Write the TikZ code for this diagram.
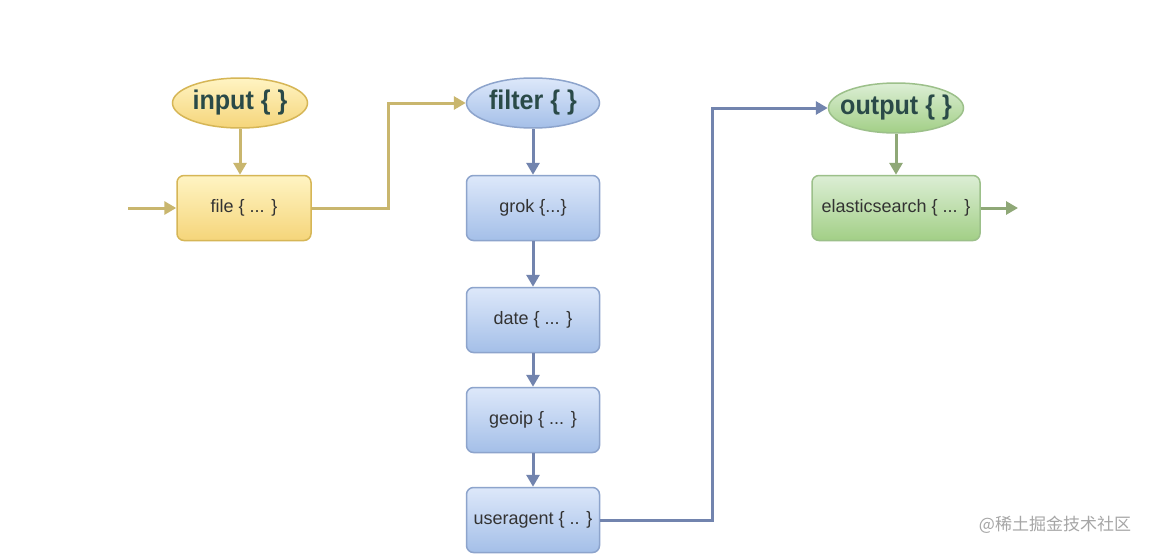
\documentclass[tikz,border=0pt]{standalone}
\usepackage{fontspec}
\setmainfont{Liberation Sans}
\newfontfamily\cjk{Noto Sans CJK SC}
\usetikzlibrary{shapes.geometric,arrows.meta}
\definecolor{ybord}{HTML}{D6B656}
\definecolor{ytop}{HTML}{FFF4C3}
\definecolor{ybot}{HTML}{F5D57A}
\definecolor{yedge}{HTML}{C9B66E}
\definecolor{bbord}{HTML}{8DA4CC}
\definecolor{btop}{HTML}{DDE8FA}
\definecolor{bbot}{HTML}{A4BFE8}
\definecolor{bedge}{HTML}{7284AE}
\definecolor{gbord}{HTML}{9CC08A}
\definecolor{gtop}{HTML}{DCEED5}
\definecolor{gbot}{HTML}{A2CF86}
\definecolor{gedge}{HTML}{8FA877}
\definecolor{etext}{HTML}{2A4A48}
\newcommand{\ellt}[1]{\scalebox{0.93}[1]{#1}}
\begin{document}
\begin{tikzpicture}[x=1pt,y=-1pt,
  ell/.style={ellipse,minimum width=135pt,minimum height=50pt,inner xsep=-14pt,inner ysep=0pt,
    font=\fontsize{27}{29}\selectfont\bfseries,text=etext,line width=1.5pt},
  box/.style={rounded corners=7pt,minimum width=134pt,minimum height=65pt,inner sep=0pt,
    font=\fontsize{18}{20}\selectfont,text=black!80,line width=1.5pt},
  yel/.style={draw=ybord,top color=ytop,bottom color=ybot},
  blu/.style={draw=bbord,top color=btop,bottom color=bbot},
  grn/.style={draw=gbord,top color=gtop,bottom color=gbot},
  conn/.style={line width=3pt,-{Triangle[length=12pt,width=13pt]}}]
\useasboundingbox (0,0) rectangle (1151,554);
\fill[white] (0,0) rectangle (1151,554);
% input
\node[ell,yel] (input) at (240,103) {\ellt{input \{ \}}};
\node[box,yel] (file) at (244,208) {file \{ ... \}};
\coordinate (inL) at (128,208);
% filter
\node[ell,blu,minimum width=133pt] (filter) at (533,103) {\ellt{filter \{ \}}};
\node[box,blu,minimum width=133pt] (grok) at (533,208) {grok \{...\}};
\node[box,blu,minimum width=133pt] (date) at (533,320) {date \{ ... \}};
\node[box,blu,minimum width=133pt] (geoip) at (533,420) {geoip \{ ... \}};
\node[box,blu,minimum width=133pt] (ua) at (533,520) {useragent \{ .. \}};
% output
\node[ell,grn] (output) at (896,108) {\ellt{output \{ \}}};
\node[box,grn,minimum width=168pt] (es) at (896,208) {elasticsearch \{ ... \}};
\coordinate (esR) at (1018,208);
% edges
\draw[conn,yedge] (input) -- (input |- file.north);
\draw[conn,yedge] (inL) -- (file.west);
\draw[conn,yedge] (file.east) -- (388,208) |- (filter.west);
\draw[conn,bedge] (filter) -- (grok);
\draw[conn,bedge] (grok) -- (date);
\draw[conn,bedge] (date) -- (geoip);
\draw[conn,bedge] (geoip) -- (ua);
\draw[conn,bedge] (ua.east) -- (712,520) |- (output.west);
\draw[conn,gedge] (output) -- (es);
\draw[conn,gedge] (es.east) -- (esR);
% watermark
\node[font=\cjk\fontsize{17}{19}\selectfont,text=black!35] (wm) at (1055,525) {@稀土掘金技术社区};
\end{tikzpicture}
\end{document}
